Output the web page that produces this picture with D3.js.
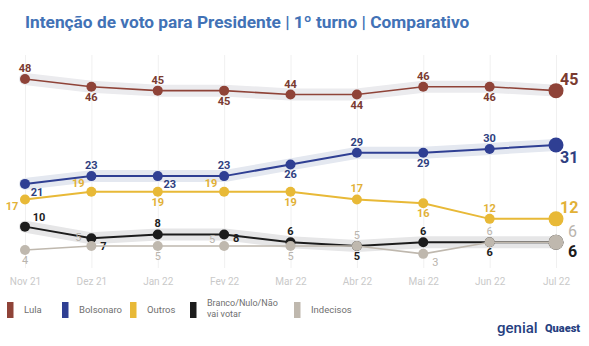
<!DOCTYPE html>
<html>
<head>
<meta charset="utf-8">
<script src="https://cdn.jsdelivr.net/npm/d3@7"></script>
<style>
  body { margin: 0; background: #fff; }
  svg { font-family: Roboto, "Noto Sans", sans-serif; }
</style>
</head>
<body>
<div id="canvas"></div>
<script>
// meses da pesquisa
const months = ["Nov 21", "Dez 21", "Jan 22", "Fev 22", "Mar 22", "Abr 22", "Mai 22", "Jun 22", "Jul 22"];

const lula      = [48, 46, 45, 45, 44, 44, 46, 46, 45];
const bolsonaro = [21, 23, 23, 23, 26, 29, 29, 30, 31];
const outros    = [17, 19, 19, 19, 19, 17, 16, 12, 12];
const branco    = [10, 7, 8, 8, 6, 5, 6, 6, 6];
const indecisos = [4, 5, 5, 5, 5, 5, 3, 6, 6];

const names = ["Lula", "Bolsonaro", "Outros", "Branco/Nulo/Não vai votar", "Indecisos"];

// onde fica cada rótulo (a = acima, b = abaixo, ...)
const place = [
  ["a", "b", "a", "b", "a", "b", "a", "b"],
  ["br", "a", "br", "a", "b", "a", "b", "a"],
  ["bl", "al", "b", "al", "b", "a", "b", "a"],
  ["ar", "br", "a", "r", "a", "b", "a", "b"],
  ["b", "al", "b", "l", "b", "a", "br", "a"]
];

const colors = ["#8f4338", "#2f3f93", "#e8b937", "#1c1c1c", "#bfb8ae"];
const labelColors = ["#7a3a30", "#2f3f80", "#e2b137", "#1c1c1c", "#b9b4ad"];
const bandColors = ["#ebebee", "#e4e8f0", null, "#e6e6e7", null];
const lastDy = [-6, 18, -6, 15, -5];
const lastDx = [4, 4, 4, 12, 12];

const offs = {
  a: [0, -7], b: [0, 14], ar: [14, -6], br: [12, 12],
  al: [-13, -5], bl: [-13, 11], r: [12, 8], l: [-12, -3]
};

const series = [lula, bolsonaro, outros, branco, indecisos];

const width = 589, height = 346;

const svg = d3.select("#canvas").append("svg")
  .attr("width", width)
  .attr("height", height);

svg.append("text")
  .attr("x", 25).attr("y", 28)
  .attr("font-size", 17.3).attr("font-weight", 700)
  .attr("fill", "#4272b6")
  .text("Intenção de voto para Presidente | 1º turno | Comparativo");

const x = d3.scalePoint().domain(months).range([25, 556]);
const y = d3.scaleLinear().domain([0, 50]).range([265.5, 71.2]);

// eixo x com as linhas verticais
const ax = svg.append("g")
  .attr("transform", "translate(0,268)")
  .call(d3.axisBottom(x).tickSize(-213).tickPadding(10));
ax.select(".domain").remove();
ax.selectAll(".tick line").attr("stroke", "#f0f0f0");
ax.selectAll(".tick text")
  .attr("fill", "#c9c9c9")
  .attr("font-size", 10)
  .style("font-family", "Roboto, sans-serif");

const line = d3.line()
  .x((d, i) => x(months[i]))
  .y(d => y(d));

// faixas de fundo
series.forEach((s, k) => {
  if (!bandColors[k]) return;
  svg.append("path")
    .attr("d", line(s))
    .attr("fill", "none")
    .attr("stroke", bandColors[k])
    .attr("stroke-width", 12)
    .attr("stroke-linecap", "round")
    .attr("stroke-linejoin", "round");
});

const order = [3, 4, 2, 1, 0];
order.forEach(k => {
  const s = series[k];
  const g = svg.append("g");
  g.append("path")
    .attr("d", line(s))
    .attr("fill", "none")
    .attr("stroke", colors[k])
    .attr("stroke-width", k == 0 || k == 4 ? 1.6 : 2);

  g.selectAll("circle").data(s).enter().append("circle")
    .attr("cx", (d, i) => x(months[i]))
    .attr("cy", d => y(d))
    .attr("r", (d, i) => i == s.length - 1 ? 7.5 : 5)
    .attr("fill", colors[k]);

  g.selectAll("text").data(s).enter().append("text")
    .attr("x", (d, i) => i == s.length - 1 ? x(months[i]) + lastDx[k] : x(months[i]) + offs[place[k][i]][0])
    .attr("y", (d, i) => i == s.length - 1 ? y(d) + lastDy[k] : y(d) + offs[place[k][i]][1])
    .attr("text-anchor", (d, i) => i == s.length - 1 ? "start" : "middle")
    .attr("font-size", (d, i) => i == s.length - 1 ? 16 : 11)
    .attr("font-weight", k == 4 ? 400 : 700)
    .attr("fill", labelColors[k])
    .text(d => d);
});

// legenda
const lx = [7, 62, 130, 190, 294];
const leg = svg.append("g");
names.forEach((n, k) => {
  leg.append("rect")
    .attr("x", lx[k]).attr("y", 302)
    .attr("width", 6.5).attr("height", 16)
    .attr("fill", colors[k]);
  if (k == 3) {
    leg.append("text")
      .attr("x", lx[k] + 17).attr("y", 306)
      .attr("font-size", 9).attr("fill", "#6f6f6f")
      .text("Branco/Nulo/Não");
    leg.append("text")
      .attr("x", lx[k] + 17).attr("y", 317)
      .attr("font-size", 9).attr("fill", "#6f6f6f")
      .text("vai votar");
  } else {
    leg.append("text")
      .attr("x", lx[k] + 17).attr("y", 313)
      .attr("font-size", 9.5).attr("fill", "#6f6f6f")
      .text(n);
  }
});

// logos
svg.append("text")
  .attr("x", 497).attr("y", 333)
  .attr("font-size", 15).attr("font-weight", 500)
  .attr("fill", "#26407f")
  .text("genial");
svg.append("text")
  .attr("x", 545).attr("y", 332)
  .attr("font-size", 11).attr("font-weight", 900)
  .attr("fill", "#26407f")
  .text("Quaest");
</script>
</body>
</html>
